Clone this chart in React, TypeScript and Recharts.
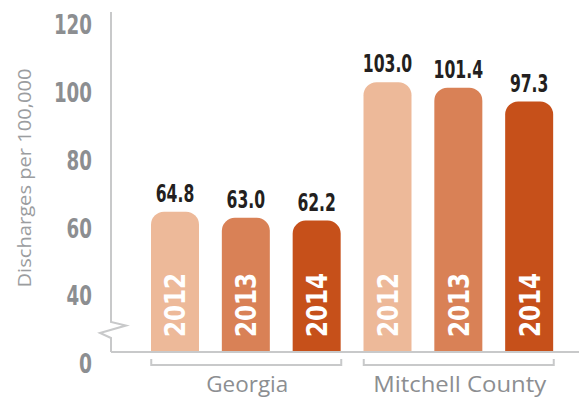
import React from "react";
import { Bar, BarChart, Cell, LabelList, XAxis, YAxis } from "recharts";

const groups = ["Georgia", "Georgia", "Georgia", "Mitchell County", "Mitchell County", "Mitchell County"];
const years = ["2012", "2013", "2014", "2012", "2013", "2014"];
const values = [64.8, 63.0, 62.2, 103.0, 101.4, 97.3];
const yearColors: Record<string, string> = { "2012": "#EDB999", "2013": "#D98156", "2014": "#C6501A" };
const yTicks = [40, 60, 80, 100, 120];
const groupLabelWidth: Record<string, number> = { Georgia: 82, "Mitchell County": 173 };

const data = values.map((v, i) => ({ key: `${groups[i]}-${years[i]}`, group: groups[i], year: years[i], value: v }));

const GRAY = "#8C8E91";
const LINE = "#C8C9CA";
const COND = '"DejaVu Sans Condensed", "Liberation Sans Narrow", sans-serif';
const SANS = '"Open Sans", "Noto Sans", sans-serif';

// largeur approx. d'un texte condensé (chiffres + point)
const condWidth = (s: string, digit: number) =>
  s.split("").reduce((w, c) => w + (c === "." ? digit * 0.5 : digit), 0);

// axe Y avec coupure + le "0" + titre
const YAxisDecor = (props: any) => {
  const vb = props.viewBox || {};
  const ax = vb.x + vb.width;
  const top = vb.y;
  const bottom = vb.y + vb.height;
  const d = `M${ax},${top} L${ax},${bottom - 30} L${ax + 15},${bottom - 26.5} L${ax - 11},${bottom - 19} L${ax},${bottom - 14} L${ax},${bottom}`;
  return (
    <g>
      <path d={d} fill="none" stroke={LINE} strokeWidth={2} strokeLinejoin="miter" />
      <text
        x={ax - 19}
        y={bottom + 11}
        dy="0.355em"
        textAnchor="end"
        fill={GRAY}
        fontSize={27}
        fontWeight="bold"
        fontFamily={COND}
        textLength={13}
        lengthAdjust="spacingAndGlyphs"
      >
        0
      </text>
      <text
        transform={`translate(24, ${(top + bottom) / 2 - 4}) rotate(-90)`}
        textAnchor="middle"
        dy="0.355em"
        fill="#9B9DA0"
        fontSize={19}
        fontFamily={SANS}
        textLength={219}
        lengthAdjust="spacingAndGlyphs"
      >
        Discharges per 100,000
      </text>
    </g>
  );
};

const YTick = (props: any) => {
  const { x, y, payload } = props;
  const s = String(payload.value);
  return (
    <text
      x={x}
      y={y}
      dy="0.355em"
      textAnchor="end"
      fill={GRAY}
      fontSize={27}
      fontWeight="bold"
      fontFamily={COND}
      textLength={condWidth(s, 12.7)}
      lengthAdjust="spacingAndGlyphs"
    >
      {s}
    </text>
  );
};

const GroupTick = (props: any) => {
  const { x, y, index } = props;
  if (index !== 1 && index !== 4) return null;
  const half = 95;
  const by = y + 13;
  const g = data[index].group;
  return (
    <g>
      <path
        d={`M${x - half},${by - 6} L${x - half},${by} L${x + half},${by} L${x + half},${by - 6}`}
        fill="none"
        stroke={LINE}
        strokeWidth={2}
      />
      <text
        x={x + 1}
        y={y + 40}
        textAnchor="middle"
        fill={GRAY}
        fontSize={21}
        fontFamily={SANS}
        textLength={groupLabelWidth[g]}
        lengthAdjust="spacingAndGlyphs"
      >
        {g}
      </text>
    </g>
  );
};

const ValueLabel = (props: any) => {
  const { x, y, width, value } = props;
  const s = Number(value).toFixed(1);
  return (
    <text
      x={x + width / 2}
      y={y - 10}
      textAnchor="middle"
      fill="#231F20"
      fontSize={24}
      fontWeight="bold"
      fontFamily={COND}
      textLength={condWidth(s, 11)}
      lengthAdjust="spacingAndGlyphs"
    >
      {s}
    </text>
  );
};

const YearLabel = (props: any) => {
  const { x, y, width, height, value } = props;
  const cx = x + width / 2;
  const by = y + height - 15;
  return (
    <text
      transform={`translate(${cx}, ${by}) rotate(-90)`}
      textAnchor="start"
      dy="0.36em"
      fill="#FFFFFF"
      fontSize={29}
      fontWeight="bold"
      fontFamily={COND}
      textLength={64}
      lengthAdjust="spacingAndGlyphs"
    >
      {value}
    </text>
  );
};

export default function App() {
  return (
    <div style={{ width: 581, height: 403, background: "#fff" }}>
      <style>{`body{margin:0}`}</style>
      <BarChart width={581} height={403} data={data} margin={{ top: 12, right: 2, bottom: 0, left: 0 }}>
        <YAxis
          type="number"
          domain={[23.45, 123.7]}
          ticks={yTicks}
          width={111}
          axisLine={false}
          tickLine={false}
          tickSize={0}
          tickMargin={19}
          tick={<YTick />}
          label={<YAxisDecor />}
        />
        <XAxis
          dataKey="key"
          height={51}
          padding={{ left: 29, right: 14 }}
          axisLine={{ stroke: LINE, strokeWidth: 2 }}
          tickLine={false}
          tickSize={0}
          tickMargin={0}
          interval={0}
          tick={<GroupTick />}
        />
        <Bar dataKey="value" barSize={48} radius={[13, 13, 0, 0]} isAnimationActive={false}>
          {data.map((d) => (
            <Cell key={d.key} fill={yearColors[d.year]} />
          ))}
          <LabelList dataKey="value" content={<ValueLabel />} />
          <LabelList dataKey="year" content={<YearLabel />} />
        </Bar>
      </BarChart>
    </div>
  );
}
